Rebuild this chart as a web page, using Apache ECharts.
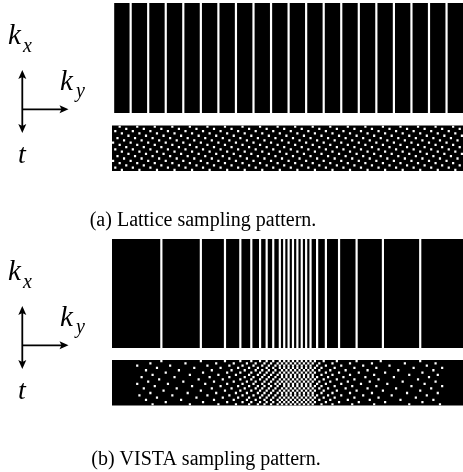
<!DOCTYPE html>
<html><head><meta charset="utf-8">
<script src="https://cdn.jsdelivr.net/npm/echarts@6/dist/echarts.min.js"></script>
<style>html,body{margin:0;padding:0;background:#fff}#c{width:463px;height:472px}</style>
</head><body><div id="c"></div>
<script>
// ky phase-encode index (0..kyCount-1), t frame index (0..frameCount-1)
const kyCount = 160;
const frameCount = 20;

// (a) Lattice: sampled ky lines of one frame
const latticeLines = [0,8,16,24,32,40,48,56,64,72,80,88,96,104,112,120,128,136,144,152];

// (a) Lattice: sampled ky per frame (ky-t plane)
const latticeDots = [
  [3,11,19,27,35,43,51,59,67,75,83,91,99,107,115,123,131,139,147,155],
  [6,14,22,30,38,46,54,62,70,78,86,94,102,110,118,126,134,142,150,158],
  [1,9,17,25,33,41,49,57,65,73,81,89,97,105,113,121,129,137,145,153],
  [4,12,20,28,36,44,52,60,68,76,84,92,100,108,116,124,132,140,148,156],
  [7,15,23,31,39,47,55,63,71,79,87,95,103,111,119,127,135,143,151,159],
  [2,10,18,26,34,42,50,58,66,74,82,90,98,106,114,122,130,138,146,154],
  [5,13,21,29,37,45,53,61,69,77,85,93,101,109,117,125,133,141,149,157],
  [0,8,16,24,32,40,48,56,64,72,80,88,96,104,112,120,128,136,144,152],
  [3,11,19,27,35,43,51,59,67,75,83,91,99,107,115,123,131,139,147,155],
  [6,14,22,30,38,46,54,62,70,78,86,94,102,110,118,126,134,142,150,158],
  [1,9,17,25,33,41,49,57,65,73,81,89,97,105,113,121,129,137,145,153],
  [4,12,20,28,36,44,52,60,68,76,84,92,100,108,116,124,132,140,148,156],
  [7,15,23,31,39,47,55,63,71,79,87,95,103,111,119,127,135,143,151,159],
  [2,10,18,26,34,42,50,58,66,74,82,90,98,106,114,122,130,138,146,154],
  [5,13,21,29,37,45,53,61,69,77,85,93,101,109,117,125,133,141,149,157],
  [0,8,16,24,32,40,48,56,64,72,80,88,96,104,112,120,128,136,144,152],
  [3,11,19,27,35,43,51,59,67,75,83,91,99,107,115,123,131,139,147,155],
  [6,14,22,30,38,46,54,62,70,78,86,94,102,110,118,126,134,142,150,158],
  [1,9,17,25,33,41,49,57,65,73,81,89,97,105,113,121,129,137,145,153],
  [4,12,20,28,36,44,52,60,68,76,84,92,100,108,116,124,132,140,148,156]
];

// (b) VISTA: sampled ky lines of one frame
const vistaLines = [22,40,51,58,63,67,70,73,76,78,80,82,84,86,88,90,93,97,103,111,123,140];

// (b) VISTA: sampled ky per frame (ky-t plane)
const vistaDots = [
  [22,40,51,58,63,67,70,73,76,78,80,82,84,86,88,90,92,96,102,111,122,140],
  [17,33,47,55,61,65,69,72,75,77,79,81,83,85,87,89,91,94,100,108,118,133,147],
  [11,26,43,53,59,64,68,71,74,76,78,80,82,84,86,88,90,93,97,104,114,126,143],
  [20,37,49,57,62,66,70,73,76,78,80,82,84,86,88,90,92,95,101,110,120,137,150],
  [15,30,45,54,60,65,68,71,74,77,79,81,83,85,87,89,91,94,99,106,116,130,146],
  [24,41,52,58,63,67,70,73,76,78,80,82,84,86,88,90,92,97,103,112,124,141],
  [18,35,48,56,62,66,69,72,75,77,79,81,83,85,87,89,91,95,100,108,119,135,148],
  [13,28,44,53,60,64,68,71,74,77,79,81,83,85,87,89,91,93,98,105,115,128,144],
  [21,39,50,58,63,67,70,73,76,78,80,82,84,86,88,90,92,96,102,110,121,139],
  [16,32,46,55,61,65,69,72,75,77,79,81,83,85,87,89,91,94,99,107,117,132,147],
  [11,25,42,52,59,64,68,71,74,76,78,80,82,84,86,88,90,93,97,104,113,125,142],
  [19,36,49,57,62,66,69,72,75,78,80,82,84,86,88,90,92,95,101,109,120,136,150],
  [14,29,45,54,60,65,68,71,74,77,79,81,83,85,87,89,91,94,98,106,116,129,145],
  [23,40,51,58,63,67,70,73,76,78,80,82,84,86,88,90,92,96,102,111,123,140],
  [17,34,47,56,61,66,69,72,75,77,79,81,83,85,87,89,91,95,100,108,118,134,148],
  [12,27,43,53,59,64,68,71,74,77,79,81,83,85,87,89,91,93,98,104,114,127,143],
  [20,38,50,57,62,67,70,73,76,78,80,82,84,86,88,90,92,96,101,110,121,138],
  [15,31,46,55,61,65,69,72,75,77,79,81,83,85,87,89,91,94,99,107,117,131,146],
  [24,41,52,59,63,67,70,73,76,78,80,82,84,86,88,90,92,97,103,112,124,141],
  [18,35,48,56,62,66,69,72,75,77,79,81,83,85,87,89,91,95,100,109,119,135,149]
];

const captionA = '(a) Lattice sampling pattern.';
const captionB = '(b) VISTA sampling pattern.';

function linePairs(lines){ return lines.map(ky => [ky, 0.5]); }
function dotPairs(frames){ const out = []; frames.forEach((row, t) => row.forEach(ky => out.push([ky, t]))); return out; }

function renderLine(params, api){
  const ky = api.value(0);
  const a = api.coord([ky - 0.5, 1]);
  const b = api.coord([ky + 0.5, 0]);
  return {type:'rect', shape:{x:a[0], y:a[1], width:b[0]-a[0], height:b[1]-a[1]}, style:{fill:'#fff'}};
}
function renderDot(params, api){
  const ky = api.value(0), t = api.value(1);
  const a = api.coord([ky - 0.5, t]);
  const b = api.coord([ky + 0.5, t + 1]);
  return {type:'rect', shape:{x:Math.min(a[0],b[0]), y:Math.min(a[1],b[1]), width:Math.abs(b[0]-a[0]), height:Math.abs(b[1]-a[1])}, style:{fill:'#fff'}};
}

const panelTops = [3, 125.5, 239, 360];
const panelHeights = [110, 45.5, 109, 45.5];
const grids = panelTops.map((top, i) => ({left:112, width:352, top:top, height:panelHeights[i], show:true, backgroundColor:'#000', borderWidth:0}));
const xAxes = grids.map((g, i) => ({type:'value', gridIndex:i, min:-0.5, max:kyCount - 0.5, show:false}));
const yAxes = grids.map((g, i) => (i % 2 === 0
  ? {type:'value', gridIndex:i, min:0, max:1, show:false}
  : {type:'value', gridIndex:i, min:0, max:frameCount, inverse:true, show:false}));

const seriesData = [linePairs(latticeLines), dotPairs(latticeDots), linePairs(vistaLines), dotPairs(vistaDots)];
const series = seriesData.map((d, i) => ({
  type:'custom', xAxisIndex:i, yAxisIndex:i, clip:true, silent:true,
  renderItem: i % 2 === 0 ? renderLine : renderDot, data:d
}));

const MF = '"Liberation Serif", "DejaVu Serif", serif';
function axesGlyph(dy){
  const lw = 1.8, c = '#000';
  return [
    {type:'text', style:{text:'k', x:8, y:36+dy, font:'italic 29px ' + MF, fill:c, verticalAlign:'middle'}},
    {type:'text', style:{text:'x', x:23, y:47+dy, font:'italic 20px ' + MF, fill:c, verticalAlign:'middle'}},
    {type:'text', style:{text:'k', x:60, y:82+dy, font:'italic 29px ' + MF, fill:c, verticalAlign:'middle'}},
    {type:'text', style:{text:'y', x:76, y:92+dy, font:'italic 20px ' + MF, fill:c, verticalAlign:'middle'}},
    {type:'text', style:{text:'t', x:18, y:156+dy, font:'italic 28px ' + MF, fill:c, verticalAlign:'middle'}},
    {type:'line', shape:{x1:22.3, y1:76+dy, x2:22.3, y2:127+dy}, style:{stroke:c, lineWidth:lw}},
    {type:'polygon', shape:{points:[[22.3,70+dy],[18.3,79+dy],[22.3,77+dy],[26.3,79+dy]]}, style:{fill:c}},
    {type:'polygon', shape:{points:[[22.3,133+dy],[18.3,124+dy],[22.3,126+dy],[26.3,124+dy]]}, style:{fill:c}},
    {type:'line', shape:{x1:22.3, y1:109.3+dy, x2:62, y2:109.3+dy}, style:{stroke:c, lineWidth:lw}},
    {type:'polygon', shape:{points:[[68.5,109.3+dy],[59.5,105.3+dy],[61.5,109.3+dy],[59.5,113.3+dy]]}, style:{fill:c}}
  ];
}

const chart = echarts.init(document.getElementById('c'), null, {renderer:'canvas'});
chart.setOption({
  animation:false,
  backgroundColor:'#fff',
  grid:grids, xAxis:xAxes, yAxis:yAxes, series:series,
  graphic:[].concat(axesGlyph(0), axesGlyph(236), [
    {type:'text', style:{text:captionA, x:203, y:221, font:'20px ' + MF, fill:'#000', align:'center', verticalAlign:'middle'}},
    {type:'text', style:{text:captionB, x:206, y:460, font:'20px ' + MF, fill:'#000', align:'center', verticalAlign:'middle'}}
  ])
});
</script></body></html>
